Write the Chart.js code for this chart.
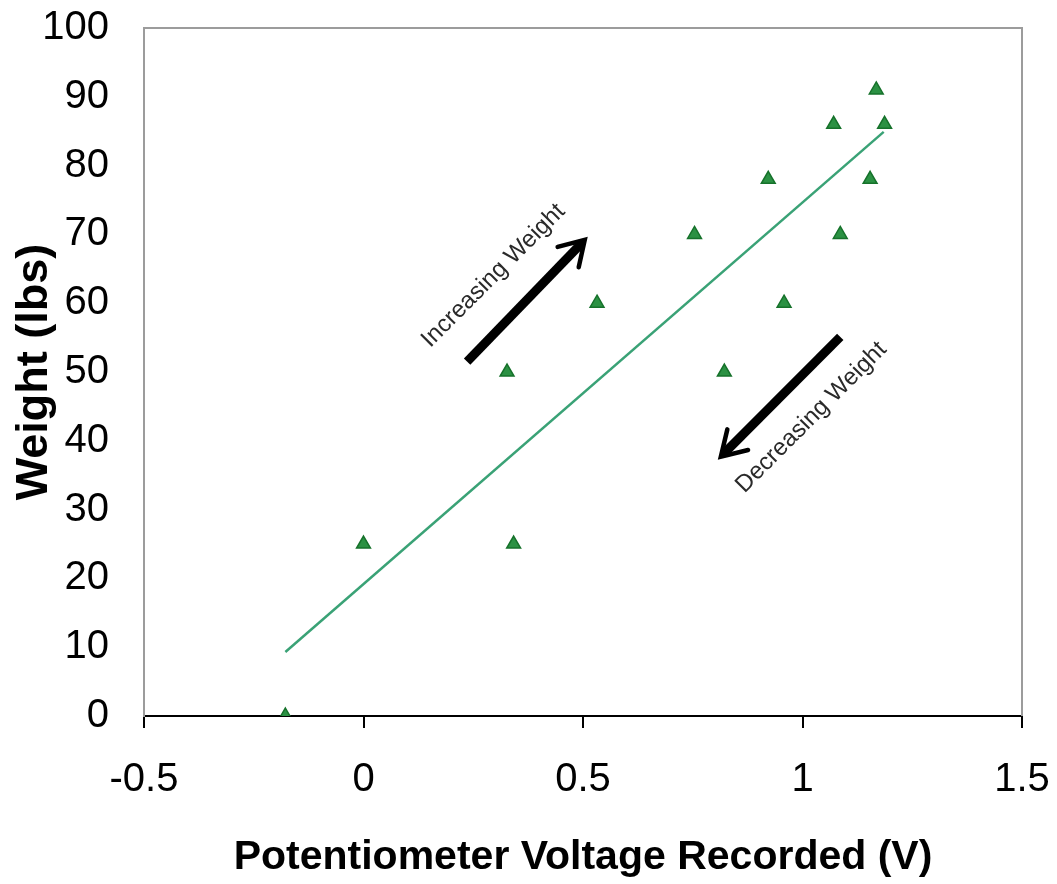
<!DOCTYPE html>
<html>
<head>
<meta charset="utf-8">
<title>Weight vs Potentiometer Voltage</title>
<script src="https://cdn.jsdelivr.net/npm/chart.js@4.4.0/dist/chart.umd.min.js"></script>
<style>
  html, body { margin: 0; padding: 0; background: #fff; }
  #wrap { width: 1057px; height: 884px; }
</style>
</head>
<body>
<div id="wrap"><canvas id="chart"></canvas></div>
<script>
// measured points (V, lbs)
const voltage = [-0.178, 0, 0.342, 0.327, 0.532, 0.754, 0.822, 0.958, 0.922, 1.071, 1.086, 1.154, 1.168, 1.187];
const weight  = [0, 25, 25, 50, 60, 70, 50, 60, 78, 86, 70, 78, 91, 86];

// linear trend line end points
const trendX = [-0.178, 1.185];
const trendY = [9.3, 84.9];

const xTicks = [-0.5, 0, 0.5, 1, 1.5];

// arrows + captions, in data units
const arrowFrom = [[0.236, 51.5], [1.086, 55.1]];
const arrowTo   = [[0.504, 69.2], [0.814, 37.7]];
const captions  = ['Increasing Weight', 'Decreasing Weight'];
const captionAt = [[0.296, 64.0], [1.02, 43.4]];

const annotate = {
  id: 'annotate',
  afterDatasetsDraw(chart) {
    const ctx = chart.ctx;
    const a = chart.chartArea;
    const xs = chart.scales.x, ys = chart.scales.y;
    ctx.save();
    // gray frame on top and right
    ctx.strokeStyle = '#9c9c9c';
    ctx.lineWidth = 2;
    ctx.beginPath();
    ctx.moveTo(a.left, a.top);
    ctx.lineTo(a.right, a.top);
    ctx.lineTo(a.right, a.bottom);
    ctx.stroke();

    for (let i = 0; i < arrowFrom.length; i++) {
      const x1 = xs.getPixelForValue(arrowFrom[i][0]), y1 = ys.getPixelForValue(arrowFrom[i][1]);
      const x2 = xs.getPixelForValue(arrowTo[i][0]), y2 = ys.getPixelForValue(arrowTo[i][1]);
      const ang = Math.atan2(y2 - y1, x2 - x1);
      ctx.strokeStyle = '#000';
      ctx.lineCap = 'butt';
      ctx.lineWidth = 9;
      ctx.beginPath();
      ctx.moveTo(x1, y1);
      ctx.lineTo(x2 - 4 * Math.cos(ang), y2 - 4 * Math.sin(ang));
      ctx.stroke();
      ctx.lineWidth = 4.5;
      ctx.lineCap = 'round';
      ctx.lineJoin = 'miter';
      ctx.beginPath();
      ctx.moveTo(x2 - 28 * Math.cos(ang - 0.55), y2 - 28 * Math.sin(ang - 0.55));
      ctx.lineTo(x2, y2);
      ctx.lineTo(x2 - 28 * Math.cos(ang + 0.55), y2 - 28 * Math.sin(ang + 0.55));
      ctx.stroke();

      ctx.save();
      ctx.translate(xs.getPixelForValue(captionAt[i][0]), ys.getPixelForValue(captionAt[i][1]));
      ctx.rotate(-Math.PI / 4);
      ctx.fillStyle = '#2a2a2a';
      ctx.font = '24px "Liberation Sans", Arial, sans-serif';
      ctx.textAlign = 'center';
      ctx.textBaseline = 'middle';
      ctx.fillText(captions[i], 0, 0);
      ctx.restore();
    }
    ctx.restore();
  }
};

const tickFont = { family: '"Liberation Sans", Arial, sans-serif', size: 40 };
const xTitleFont = { family: '"Liberation Sans", Arial, sans-serif', size: 41, weight: 'bold', lineHeight: 1.2 };
const yTitleFont = { family: '"Liberation Sans", Arial, sans-serif', size: 45, weight: 'bold', lineHeight: 1.2 };

function noPad(s) {
  s.paddingTop = 0; s.paddingBottom = 0; s.paddingLeft = 0; s.paddingRight = 0;
}

new Chart(document.getElementById('chart'), {
  type: 'scatter',
  data: {
    datasets: [
      {
        label: 'Weight',
        data: voltage.map((v, i) => ({ x: v, y: weight[i] })),
        pointStyle: 'triangle',
        pointRadius: 8,
        backgroundColor: '#2b9143',
        borderColor: '#16722b',
        borderWidth: 1.5
      },
      {
        label: 'Trend',
        data: trendX.map((v, i) => ({ x: v, y: trendY[i] })),
        showLine: true,
        pointRadius: 0,
        borderColor: '#3aa276',
        borderWidth: 2.5
      }
    ]
  },
  options: {
    responsive: true,
    maintainAspectRatio: false,
    animation: false,
    layout: { padding: { top: 28, right: 35, left: 0, bottom: 0 } },
    plugins: { legend: { display: false }, tooltip: { enabled: false } },
    scales: {
      x: {
        type: 'linear',
        min: -0.5, max: 1.5,
        afterFit: s => { s.height = 168; noPad(s); },
        afterBuildTicks: s => { s.ticks = xTicks.map(v => ({ value: v })); },
        grid: { display: true, drawOnChartArea: false, drawTicks: true, tickLength: 12, color: '#000', lineWidth: 2 },
        border: { display: true, color: '#000', width: 2 },
        ticks: { color: '#000', font: tickFont, padding: 28, maxRotation: 0, callback: v => String(v) },
        title: { display: true, text: 'Potentiometer Voltage Recorded (V)', color: '#000', font: xTitleFont, padding: { top: 0, bottom: 2 } }
      },
      y: {
        min: 0, max: 100,
        afterFit: s => { s.width = 144; noPad(s); },
        grid: { display: false, drawTicks: false },
        border: { display: true, color: '#9c9c9c', width: 2 },
        ticks: { stepSize: 10, color: '#000', font: tickFont, padding: 35 },
        title: { display: true, text: 'Weight (lbs)', color: '#000', font: yTitleFont, padding: { top: 8, bottom: 0 } }
      }
    }
  },
  plugins: [annotate]
});
</script>
</body>
</html>
